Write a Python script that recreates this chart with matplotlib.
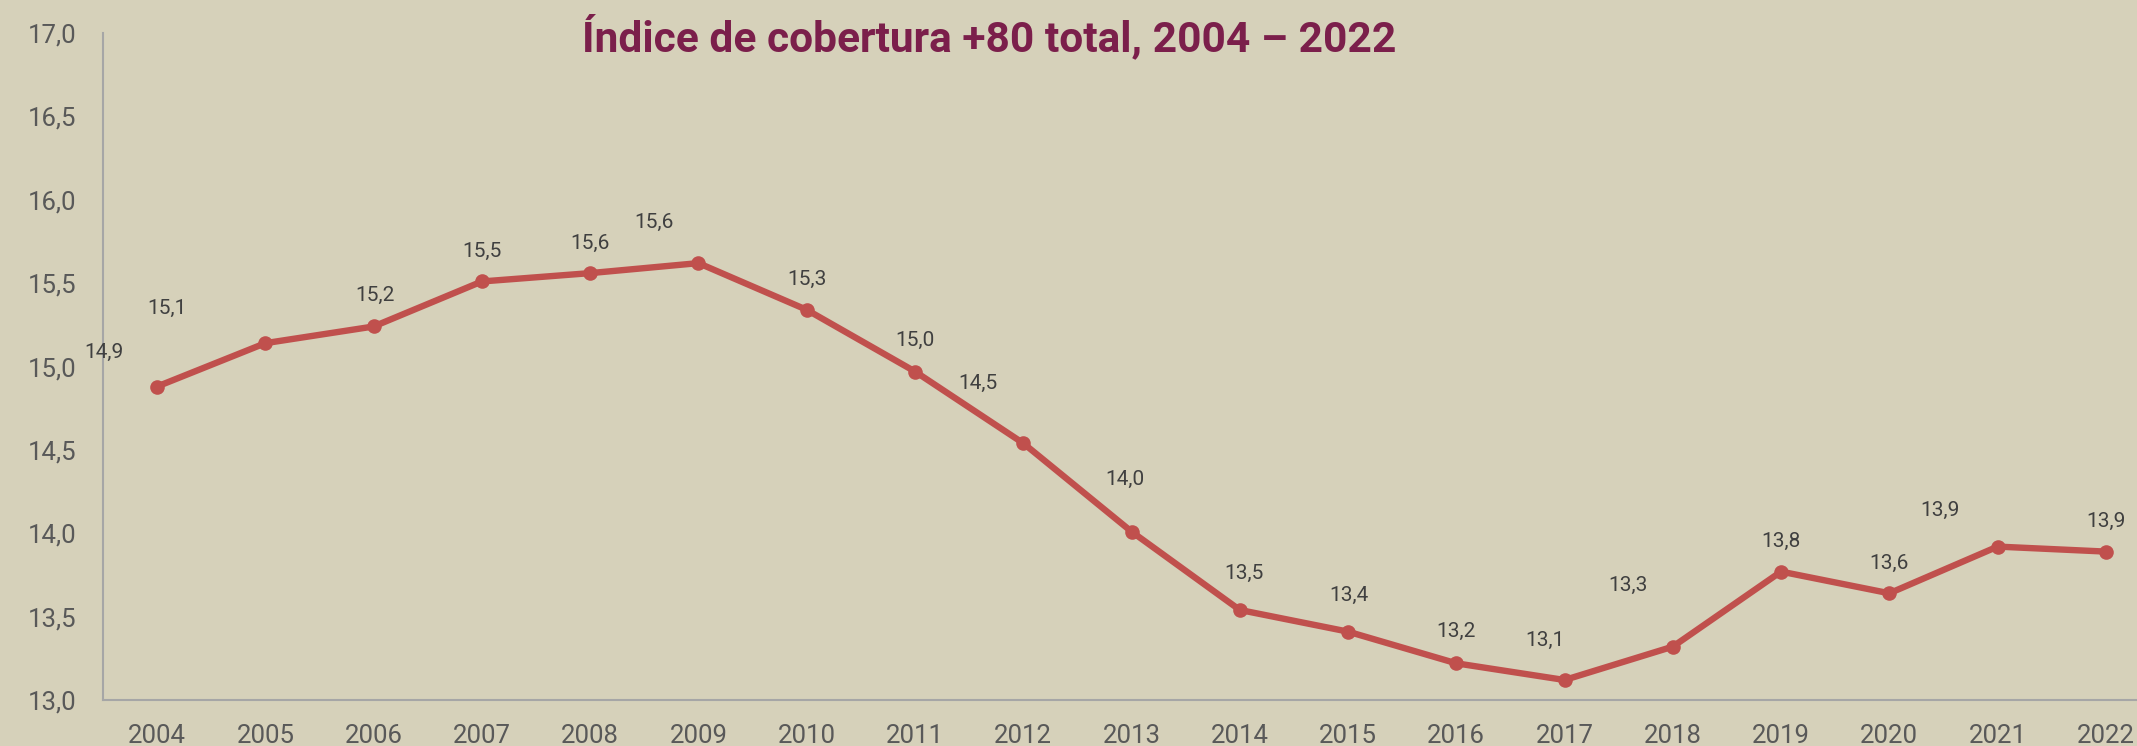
import matplotlib
matplotlib.use("Agg")
import matplotlib.pyplot as plt
from matplotlib.ticker import FuncFormatter

plt.rcParams['font.family'] = ['Roboto', 'DejaVu Sans']

years = [str(y) for y in range(2004, 2023)]
values = [14.88, 15.14, 15.24, 15.51, 15.56, 15.62, 15.34, 14.97, 14.54, 14.01,
          13.54, 13.41, 13.22, 13.12, 13.32, 13.77, 13.64, 13.92, 13.89]
# label offsets from each point, in pixels (dx, dy; dy positive = up)
label_dx = [-53, -98, 1, 0, 0, -44, 0, 0, -45, -7, 4, 1, 0, -20, -45, 0, 0, -58, 0]
label_dy = [34, 35, 31, 30, 30, 41, 30, 31, 60, 52, 37, 36, 32, 40, 61, 30, 30, 36, 30]
yticks = [13.0, 13.5, 14.0, 14.5, 15.0, 15.5, 16.0, 16.5, 17.0]
title = "Índice de cobertura +80 total, 2004 – 2022"

bg = "#D6D1BA"
line_color = "#C0504D"

W, H = 2137, 746
fig = plt.figure(figsize=(W / 100, H / 100), dpi=100)
fig.patch.set_facecolor(bg)
ax = fig.add_axes([103 / W, 46 / H, (2160 - 103) / W, (700 - 33) / H])
ax.set_facecolor(bg)

x = list(range(len(years)))
ax.plot(x, values, color=line_color, lw=4.6, marker='o', markersize=10.5,
        markeredgewidth=0, solid_capstyle='round', solid_joinstyle='round', zorder=3)

for xi, v, dx, dy in zip(x, values, label_dx, label_dy):
    ax.annotate(f"{v:.1f}".replace('.', ','), (xi, v), xytext=(dx, dy),
                textcoords='offset pixels', ha='center', va='center',
                fontsize=15, color='#404040')

ax.set_xlim(-0.5, len(years) - 0.5)
ax.set_ylim(13.0, 17.0)
ax.set_xticks(x)
ax.set_xticklabels(years)
ax.set_yticks(yticks)
ax.yaxis.set_major_formatter(FuncFormatter(lambda v, p: f"{v:.1f}".replace('.', ',')))
ax.tick_params(axis='both', length=0, labelsize=18.5, labelcolor='#595959')
ax.tick_params(axis='x', pad=17)
ax.tick_params(axis='y', pad=19)

for s in ['top', 'right']:
    ax.spines[s].set_visible(False)
for s in ['left', 'bottom']:
    ax.spines[s].set_color('#A6A6A6')
    ax.spines[s].set_linewidth(1.5)

fig.text(989 / W, 1 - 37 / H, title, ha='center', va='center',
         fontsize=30.6, fontweight='bold', color='#7B1F4B')

fig.savefig("out.png", dpi=100, facecolor=bg)
